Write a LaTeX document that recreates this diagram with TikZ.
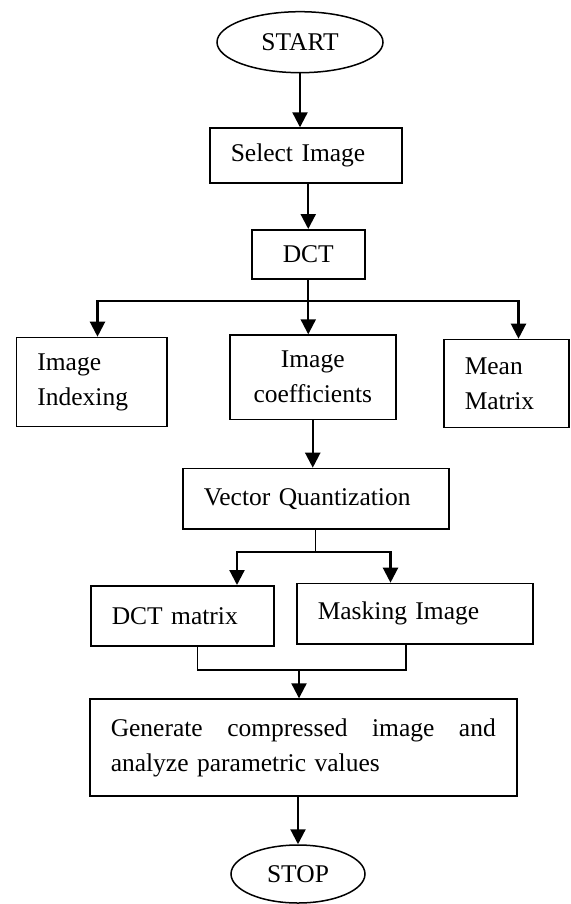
\documentclass[tikz,border=0pt]{standalone}
\usepackage{fontspec}
\setmainfont{Liberation Serif}
\usetikzlibrary{arrows.meta,shapes.geometric}
\begin{document}
\begin{tikzpicture}[x=1pt,y=-1pt,
  every node/.style={font=\fontsize{25.5}{35}\selectfont},
  box/.style={draw, line width=1.5pt, rectangle, inner xsep=21pt, inner ysep=0pt, align=left, anchor=north west},
  term/.style={draw, line width=1.5pt, ellipse, inner sep=0pt},
  arr/.style={line width=2.2pt, -{Triangle[length=15pt,width=15pt]}},
  conn/.style={line width=2.2pt},
  thinconn/.style={line width=1.4pt}]
\fill[white] (0,0) rectangle (570,904);
\useasboundingbox (0,0) rectangle (570,904);
% nodes
\node[term, minimum width=166pt, minimum height=61pt] (start) at (300,42.2) {START};
\node[box, text width=150pt, minimum height=55pt] (select) at (209,127.3) {Select Image};
\node[box, text width=71pt, minimum height=49pt, align=center] (dct) at (251,229) {DCT};
\node[box, text width=108.4pt, minimum height=89pt] (idx) at (15.6,336.7) {Image\\Indexing};
\node[box, text width=124pt, minimum height=84.4pt, align=center] (coef) at (229,334.3) {Image\\coefficients};
\node[box, text width=83pt, minimum height=88pt] (mean) at (443,338.7) {Mean\\Matrix};
\node[box, text width=224pt, minimum height=60.6pt] (vq) at (182,467.7) {Vector Quantization};
\node[box, text width=141pt, minimum height=60pt] (dctm) at (90,585) {DCT matrix};
\node[box, text width=194pt, minimum height=60.6pt] (mask) at (296,582.7) {Masking Image};
\node[box, text width=385pt, minimum height=97pt] (gen) at (89,698.3) {Generate\hfill compressed\hfill image\hfill and\\analyze parametric values};
\node[term, minimum width=134pt, minimum height=58pt] (stop) at (298,874) {STOP};
% coordinates
\coordinate (bl) at (97.5,301);
\coordinate (br) at (518.5,301);
\coordinate (sl) at (237,552.3);
\coordinate (sr) at (390.5,552.3);
\coordinate (ml) at (197.5,670);
\coordinate (mr) at (406,670);
\coordinate (mc) at (299,670);
% connectors
\draw[arr] (start.south) -- (start.south |- select.north);
\draw[arr] (dct.north |- select.south) -- (dct.north);
\draw[conn] (dct.south) -- (dct.south |- bl);
\draw[conn, line cap=rect] (bl) -- (br);
\draw[arr] (bl) -- (bl |- idx.north);
\draw[arr] (dct.south |- bl) -- (dct.south |- coef.north);
\draw[arr] (br) -- (br |- mean.north);
\draw[arr] (coef.south) -- (coef.south |- vq.north);
\draw[thinconn] (vq.south) -- (vq.south |- sl);
\draw[conn, line cap=rect] (sl) -- (sr);
\draw[arr] (sl) -- (sl |- dctm.north);
\draw[arr] (sr) -- (sr |- mask.north);
\draw[thinconn] (ml |- dctm.south) -- (ml) -- (mr) -- (mr |- mask.south);
\draw[arr] (mc) -- (mc |- gen.north);
\draw[arr] (gen.south -| stop.north) -- (stop.north);
\end{tikzpicture}
\end{document}
